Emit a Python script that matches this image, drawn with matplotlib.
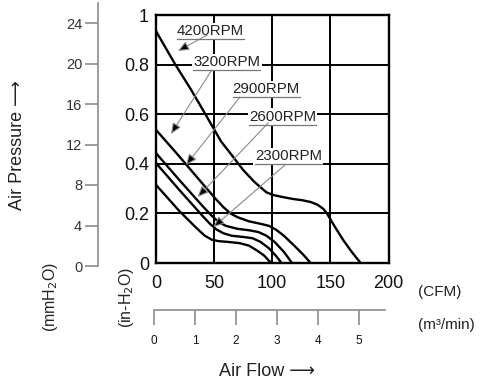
import matplotlib
matplotlib.use("Agg")
import matplotlib.pyplot as plt
from matplotlib.lines import Line2D

# ---------------- data (CFM, inch H2O) ----------------
cfm_4200 = [0, 16, 30, 42, 56, 66, 75, 84, 90, 95, 101, 110, 118, 126, 133, 139, 144, 147, 154, 161, 168, 176]
p_4200   = [0.935, 0.805, 0.70, 0.604, 0.49, 0.43, 0.375, 0.33, 0.305, 0.285, 0.274, 0.265, 0.258, 0.253, 0.246, 0.235, 0.218, 0.20, 0.145, 0.093, 0.047, 0.0]

cfm_3200 = [0, 20, 40, 52, 58, 64, 70, 80, 90, 97, 103, 110, 120, 127, 133]
p_3200   = [0.537, 0.43, 0.32, 0.255, 0.225, 0.2, 0.185, 0.168, 0.158, 0.15, 0.135, 0.11, 0.065, 0.032, 0.0]

cfm_2900 = [0, 20, 40, 48, 54, 60, 70, 80, 88, 95, 102, 110, 117]
p_2900   = [0.443, 0.335, 0.23, 0.19, 0.165, 0.15, 0.138, 0.132, 0.125, 0.11, 0.085, 0.045, 0.0]

cfm_2600 = [0, 20, 40, 46, 52, 58, 65, 75, 83, 90, 97, 103, 108]
p_2600   = [0.403, 0.295, 0.19, 0.16, 0.135, 0.12, 0.11, 0.105, 0.1, 0.085, 0.06, 0.03, 0.0]

cfm_2300 = [0, 20, 35, 42, 48, 54, 62, 72, 80, 87, 93, 99]
p_2300   = [0.315, 0.21, 0.14, 0.11, 0.094, 0.088, 0.085, 0.08, 0.07, 0.05, 0.03, 0.0]

curves = [(cfm_4200, p_4200), (cfm_3200, p_3200), (cfm_2900, p_2900),
          (cfm_2600, p_2600), (cfm_2300, p_2300)]

rpm_labels = ["4200RPM", "3200RPM", "2900RPM", "2600RPM", "2300RPM"]
label_x = [18, 32, 66, 80, 85]
label_y = [0.935, 0.81, 0.70, 0.59, 0.43]
leader_from = [(43.9, 0.919), (47.9, 0.778), (72.2, 0.669), (96.6, 0.565), (110.9, 0.395)]
leader_to = [(18.9, 0.855), (12.9, 0.52), (25.8, 0.395), (35.8, 0.266), (49.4, 0.145)]

cfm_ticks = [0, 50, 100, 150, 200]
inh2o_ticks = [0, 0.2, 0.4, 0.6, 0.8, 1.0]
inh2o_ticklabels = ["0", "0.2", "0.4", "0.6", "0.8", "1"]
mmh2o_ticks = [0, 4, 8, 12, 16, 20, 24]
m3min_ticks = [0, 1, 2, 3, 4, 5]

# ---------------- figure ----------------
W, H = 484, 388
fig = plt.figure(figsize=(W / 100, H / 100), dpi=100)
plt.rcParams['font.family'] = ['Liberation Sans', 'DejaVu Sans']

def fx(px):
    return px / W

def fy(py):
    return 1 - py / H

# main axes
ax = fig.add_axes([fx(156), fy(263), (388.5 - 156) / W, (263 - 15) / H])
ax.set_xlim(0, 200)
ax.set_ylim(0, 1)
ax.set_xticks(cfm_ticks)
ax.set_xticklabels([str(t) for t in cfm_ticks])
ax.set_yticks(inh2o_ticks)
ax.set_yticklabels(inh2o_ticklabels)
ax.tick_params(length=0, labelsize=13, colors='#111111')
ax.tick_params(axis='x', pad=9)
ax.tick_params(axis='y', pad=5)
ax.grid(True, color='black', lw=1.4)
ax.set_axisbelow(True)
for s in ax.spines.values():
    s.set_linewidth(1.7)
    s.set_color('black')

for xs, ys in curves:
    ax.plot(xs, ys, color='black', lw=1.7, zorder=4, solid_capstyle='butt')

texts = []
for lab, lx, ly in zip(rpm_labels, label_x, label_y):
    t = ax.text(lx, ly, lab, fontsize=10.8, color='#222222', ha='left', va='center',
                zorder=3, bbox=dict(facecolor='white', edgecolor='none', pad=1.0))
    texts.append(t)

for (sx, sy), (tx, ty) in zip(leader_from, leader_to):
    ax.annotate('', xy=(tx, ty), xytext=(sx, sy), zorder=5,
                arrowprops=dict(arrowstyle='-|>,head_length=0.65,head_width=0.28',
                                ec='#8a8a8a', fc='black', lw=0.8,
                                mutation_scale=10, shrinkA=0, shrinkB=0))

# outer mmH2O axis
ax_mm = fig.add_axes([fx(98), fy(266), 0.01, (266 - 3) / H])
ax_mm.set_ylim(0, 24 + 20 * 24 / 243)
ax_mm.set_yticks(mmh2o_ticks)
ax_mm.set_yticklabels([str(t) for t in mmh2o_ticks])
ax_mm.set_xticks([])
ax_mm.patch.set_visible(False)
for k in ['top', 'right', 'bottom']:
    ax_mm.spines[k].set_visible(False)
ax_mm.spines['left'].set_color('#8c8c8c')
ax_mm.spines['left'].set_linewidth(1.2)
ax_mm.tick_params(axis='y', length=9.4, width=1.2, color='#8c8c8c', labelsize=10.5,
                  labelcolor='#333333', pad=2)

# outer m3/min axis
ax_m3 = fig.add_axes([fx(154), fy(310), (385 - 154) / W, 0.01])
ax_m3.set_xlim(0, (385 - 154) / 41.0)
ax_m3.set_xticks(m3min_ticks)
ax_m3.set_xticklabels([str(t) for t in m3min_ticks])
ax_m3.set_yticks([])
ax_m3.patch.set_visible(False)
for k in ['top', 'right', 'left']:
    ax_m3.spines[k].set_visible(False)
ax_m3.spines['bottom'].set_color('#8c8c8c')
ax_m3.spines['bottom'].set_linewidth(1.2)
ax_m3.tick_params(axis='x', length=10.8, width=1.2, color='#8c8c8c', labelsize=8.5,
                  labelcolor='#111111', pad=7)

# axis texts
fig.text(fx(18), fy(145), "Air Pressure \u27f6", rotation=90, fontsize=13,
         ha='center', va='center', color='#222222')
fig.text(fx(51), fy(297), "(mmH$_2$O)", rotation=90, fontsize=11.5,
         ha='center', va='center', color='#222222')
fig.text(fx(126), fy(297), "(in-H$_2$O)", rotation=90, fontsize=11.5,
         ha='center', va='center', color='#222222')
fig.text(fx(418), fy(292), "(CFM)", fontsize=11, ha='left', va='center', color='#222222')
fig.text(fx(418), fy(325), "(m\u00b3/min)", fontsize=11, ha='left', va='center', color='#222222')
fig.text(fx(267), fy(372), "Air Flow \u27f6", fontsize=13, ha='center', va='center',
         color='#222222')

# underline RPM labels
fig.canvas.draw()
r = fig.canvas.get_renderer()
for t in texts:
    bb = t.get_window_extent(renderer=r)
    yline = bb.y0 - 1.0
    ln = Line2D([bb.x0 / W, bb.x1 / W], [yline / H, yline / H], transform=fig.transFigure,
                color='#777777', lw=0.9, zorder=6)
    fig.add_artist(ln)

fig.savefig("out.png", dpi=100)
